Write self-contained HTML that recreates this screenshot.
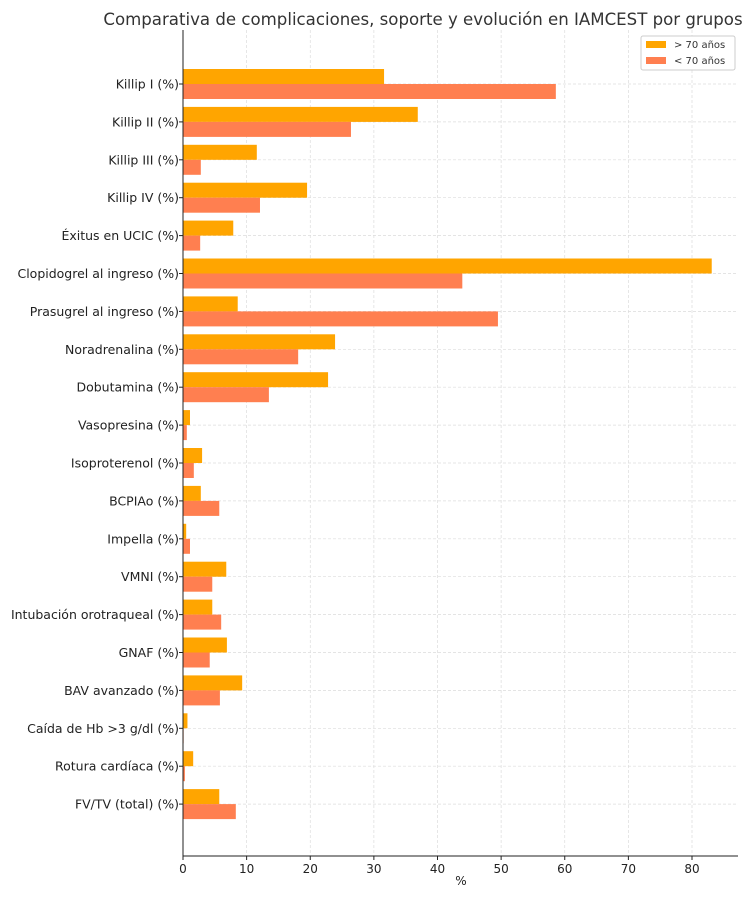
<!DOCTYPE html>
<html><head><meta charset="utf-8"><style>
body{margin:0;background:#fff;font-family:"Liberation Sans","DejaVu Sans",sans-serif}
svg text{font-family:"DejaVu Sans","Liberation Sans",sans-serif}
</style></head><body>
<svg id="c" width="750" height="900"></svg>
<script>
const categories=["Killip I (%)","Killip II (%)","Killip III (%)","Killip IV (%)","Éxitus en UCIC (%)","Clopidogrel al ingreso (%)","Prasugrel al ingreso (%)","Noradrenalina (%)","Dobutamina (%)","Vasopresina (%)","Isoproterenol (%)","BCPIAo (%)","Impella (%)","VMNI (%)","Intubación orotraqueal (%)","GNAF (%)","BAV avanzado (%)","Caída de Hb >3 g/dl (%)","Rotura cardíaca (%)","FV/TV (total) (%)"];
const over70=[31.6,36.9,11.6,19.5,7.9,83.1,8.6,23.9,22.8,1.1,3.0,2.8,0.5,6.8,4.6,6.9,9.3,0.7,1.6,5.7];
const under70=[58.6,26.4,2.8,12.1,2.7,43.9,49.5,18.1,13.5,0.6,1.7,5.7,1.1,4.6,6.0,4.2,5.8,0.1,0.3,8.3];
const xTicks=[0,10,20,30,40,50,60,70,80];
const NS="http://www.w3.org/2000/svg";
const svg=document.getElementById('c');
const L=183,R=738,T=30,B=856;
const x=v=>L+v*6.3625;
const y=i=>84+i*37.9;
function mk(t,a,p){const e=document.createElementNS(NS,t);for(const k in a)e.setAttribute(k,a[k]);(p||svg).appendChild(e);return e;}
xTicks.forEach(v=>{const g=mk('line',{x1:x(v),x2:x(v),y1:T,y2:B,stroke:'#dcdcdc','stroke-dasharray':'3,2','stroke-width':0.7});
});
categories.forEach((c,i)=>{const g=mk('line',{x1:L,x2:R,y1:y(i),y2:y(i),stroke:'#dcdcdc','stroke-dasharray':'3,2','stroke-width':0.7});
});
categories.forEach((c,i)=>{
const a=mk('rect',{x:L,y:y(i)-15,width:x(over70[i])-L,height:15,fill:'#FFA500'});

const b=mk('rect',{x:L,y:y(i),width:x(under70[i])-L,height:15,fill:'#FF7F50'});

const t=mk('text',{x:L-4,y:y(i)+4.5,'text-anchor':'end','font-size':12.5,fill:'#222'});t.textContent=c;

mk('line',{x1:L-4,x2:L,y1:y(i),y2:y(i),stroke:'#222'});
});
xTicks.forEach(v=>{mk('line',{x1:x(v),x2:x(v),y1:B,y2:B+4,stroke:'#222'});
const t=mk('text',{x:x(v),y:B+17,'text-anchor':'middle','font-size':12,fill:'#222'});t.textContent=v;
});
const ax1=mk('line',{x1:L,x2:L,y1:T,y2:B,stroke:'#222','stroke-width':1});
const ax2=mk('line',{x1:L,x2:R,y1:B,y2:B,stroke:'#222','stroke-width':1});
const xt=mk('text',{x:461,y:885,'text-anchor':'middle','font-size':12,fill:'#222'});xt.textContent='%';

const ti=mk('text',{x:423,y:25,'text-anchor':'middle','font-size':16.6,fill:'#333'});ti.textContent='Comparativa de complicaciones, soporte y evolución en IAMCEST por grupos';

const lg=mk('g',{});
mk('rect',{x:641,y:36,width:94,height:34,fill:'#fff',stroke:'#ccc',rx:2},lg);
[["> 70 años",'#FFA500'],["< 70 años",'#FF7F50']].forEach((e,k)=>{
const g=mk('g',{},lg);
mk('rect',{x:646,y:41+k*16,width:20,height:7,fill:e[1]},g);
const t=mk('text',{x:674,y:48+k*16,'font-size':10,fill:'#333'},g);t.textContent=e[0];});
</script></body></html>
